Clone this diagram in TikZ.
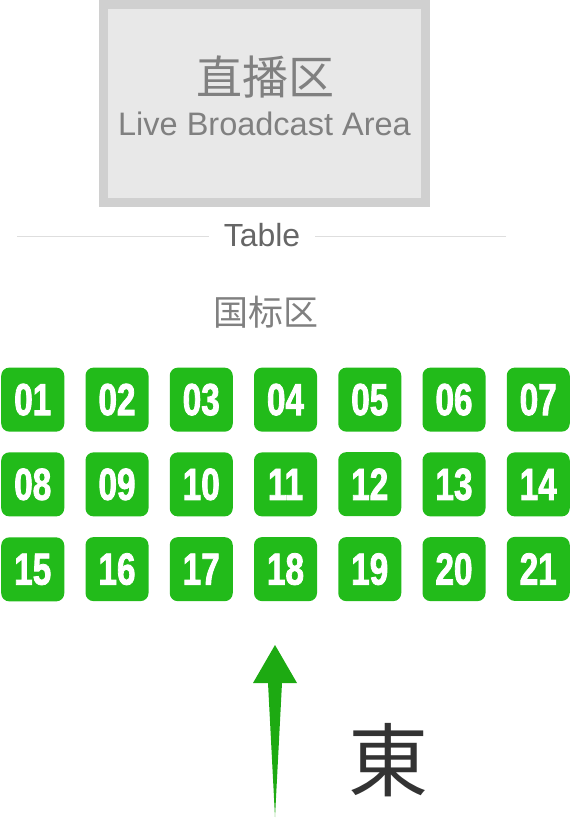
\documentclass[tikz,border=0pt]{standalone}
\usepackage{fontspec}
\setmainfont{Liberation Sans}
\newfontfamily\cjk{Noto Sans CJK SC}
\newfontfamily\cjktc{Noto Sans CJK TC}
\newfontfamily\numfont[FakeStretch=0.74,FakeBold=1.8]{Liberation Sans Bold}
\usetikzlibrary{matrix, positioning}
\definecolor{seatgreen}{RGB}{34,187,26}
\definecolor{arrowgreen}{RGB}{29,170,18}
\definecolor{areafill}{RGB}{232,232,232}
\definecolor{areaedge}{RGB}{208,208,208}

\begin{document}
\begin{tikzpicture}[x=1pt, y=-1pt,
  seat/.style={fill=seatgreen, rounded corners=8pt, minimum width=63pt, minimum height=64pt, inner sep=0pt, text=white, font=\numfont\fontsize{45}{45}\selectfont},
  rule/.style={draw=areaedge!70, line width=1pt},
  grey/.style={text=black!50, inner sep=0pt}]
  \useasboundingbox (0,0) rectangle (573,818);
  % live broadcast area
  \node (live) [draw=areaedge, fill=areafill, line width=9pt, minimum width=322pt, minimum height=198pt, inner sep=0pt] at (264.5,103.5) {};
  \node (livecn) [grey, font=\cjk\fontsize{46}{46}\selectfont] at (265,77) {直播区};
  \node (liveen) [grey, anchor=base, font=\fontsize{32.5}{33}\selectfont] at (264.5,136) {Live Broadcast Area};
  % table
  \node (table) [text=black!60, anchor=base, inner xsep=15pt, inner ysep=0pt, font=\fontsize{32}{32}\selectfont] at (262,246) {Table};
  \coordinate (tl) at (17,236);
  \coordinate (tr) at (506,236);
  \draw[rule] (tl) -- (tl -| table.west);
  \draw[rule] (tr) -- (tr -| table.east);
  \node (intl) [grey, font=\cjk\fontsize{35}{35}\selectfont] at (266,312) {国标区};
  % seats
  \matrix (S) [matrix of nodes, nodes={seat}, column sep=21.25pt, row sep=20.5pt] at (285.5,484.5) {
    01 & 02 & 03 & 04 & 05 & 06 & 07 \\
    08 & 09 & 10 & 11 & 12 & 13 & 14 \\
    15 & 16 & 17 & 18 & 19 & 20 & 21 \\
  };
  % arrow
  \fill[arrowgreen] (275,645) -- (297,683) -- (282,683) -- (275,817) -- (268,683) -- (253,683) -- cycle;
  \node (east) [text=black!80, inner sep=0pt, font=\cjktc\fontsize{80}{80}\selectfont] at (388,760) {東};
\end{tikzpicture}
\end{document}
